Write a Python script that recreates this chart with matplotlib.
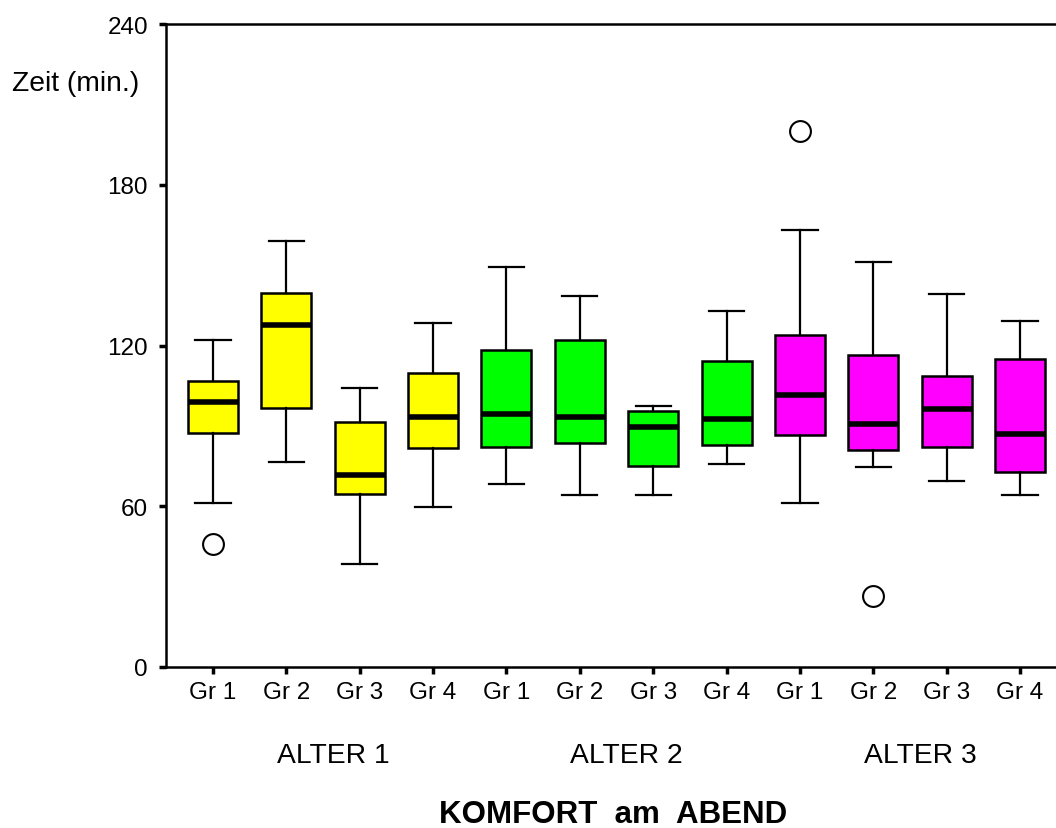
import matplotlib
matplotlib.use("Agg")
import matplotlib.pyplot as plt

plt.rcParams['font.family'] = ['Liberation Sans', 'DejaVu Sans']

groups = ['Gr 1', 'Gr 2', 'Gr 3', 'Gr 4'] * 3
alter_labels = ['ALTER 1', 'ALTER 2', 'ALTER 3']
colors = ['#ffff00'] * 4 + ['#00ff00'] * 4 + ['#ff00ff'] * 4

# box statistics (minutes)
whislo = [61.2, 76.4, 38.4, 59.8, 68.2, 64.3, 64.3, 75.8, 61.2, 74.5, 69.6, 64.3]
q1 = [87.2, 96.8, 64.5, 81.6, 82.2, 83.6, 75.1, 82.8, 86.6, 80.9, 82.1, 72.7]
med = [99.0, 127.5, 71.8, 93.4, 94.6, 93.3, 89.5, 92.6, 101.5, 90.7, 96.4, 87.0]
q3 = [106.9, 139.6, 91.6, 109.9, 118.2, 122.1, 95.4, 114.3, 123.9, 116.3, 108.7, 115.0]
whishi = [122.1, 159.0, 104.3, 128.5, 149.3, 138.5, 97.5, 132.9, 163.1, 151.2, 139.2, 129.2]
fliers = [[45.9], [], [], [], [], [], [], [], [200.0], [26.4], [], []]

stats = []
for i in range(12):
    stats.append(dict(whislo=whislo[i], q1=q1[i], med=med[i], q3=q3[i],
                      whishi=whishi[i], fliers=fliers[i]))

fig = plt.figure(figsize=(10.56, 8.29), dpi=100)
ax = fig.add_axes([166 / 1056, 1 - 668 / 829, (1067 - 166) / 1056, (668 - 25) / 829])

pos = list(range(1, 13))
bp = ax.bxp(stats, positions=pos, widths=0.68, patch_artist=True,
            boxprops=dict(linewidth=1.8, edgecolor='black'),
            medianprops=dict(color='black', linewidth=4, solid_capstyle='butt'),
            whiskerprops=dict(color='black', linewidth=1.6),
            capprops=dict(color='black', linewidth=1.6),
            capwidths=0.48,
            flierprops=dict(marker='o', markersize=15, markerfacecolor='white',
                            markeredgecolor='black', markeredgewidth=1.5))
for patch, c in zip(bp['boxes'], colors):
    patch.set_facecolor(c)

ax.set_xlim(0.36, 12.64)
ax.set_ylim(0, 240)
ax.set_yticks([0, 60, 120, 180, 240])
ax.set_xticks(pos)
ax.set_xticklabels(groups)
ax.tick_params(axis='both', labelsize=17.5, length=5, width=2.5, direction='out')
ax.tick_params(axis='y', pad=8)
ax.tick_params(axis='x', pad=5)
ax.spines['right'].set_visible(False)
for s in ['left', 'bottom', 'top']:
    ax.spines[s].set_linewidth(1.8)

for k, lab in enumerate(alter_labels):
    ax.text(2.64 + 4 * k, -0.137, lab, transform=ax.get_xaxis_transform(),
            ha='center', va='center', fontsize=20.3)

fig.text(76 / 1056, 1 - 84 / 829, 'Zeit (min.)', ha='center', va='center', fontsize=20.3)
fig.text(613 / 1056, 1 - 815 / 829, 'KOMFORT  am  ABEND', ha='center', va='center',
         fontsize=22.5, fontweight='bold')

fig.savefig('out.png', dpi=100)
